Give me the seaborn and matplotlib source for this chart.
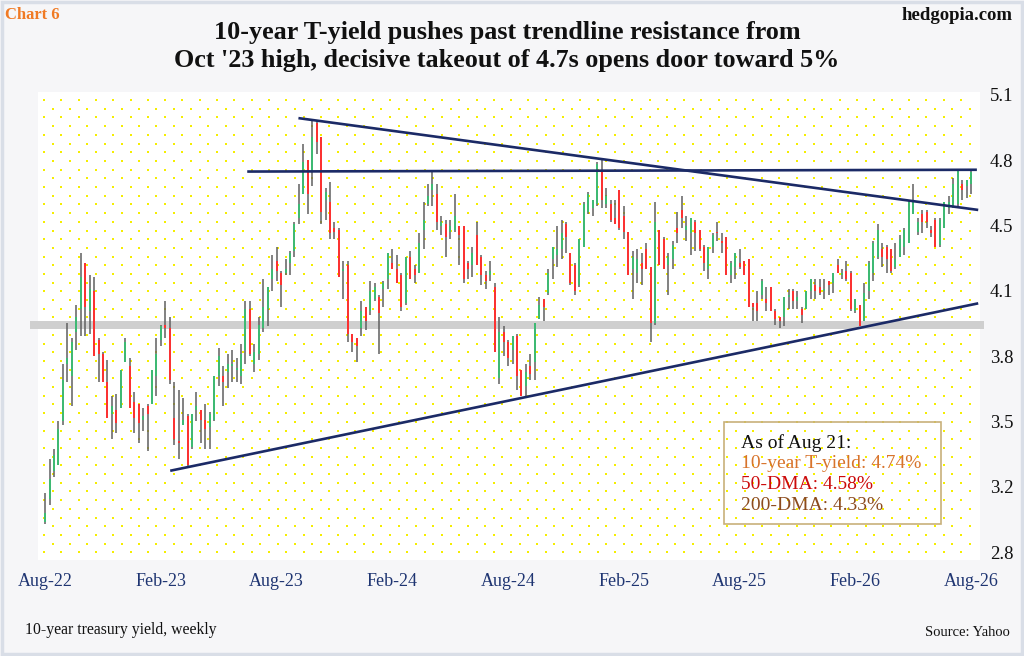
import numpy as np
import matplotlib
matplotlib.use("Agg")
import matplotlib.pyplot as plt
from matplotlib.patches import Rectangle
import seaborn as sns

# ---------------- data (weekly 10-year T-yield, Aug 2022 - Aug 21 2026) ----------------
opens = [2.97,3.09,3.23,3.26,3.48,3.77,3.71,3.93,4.05,4.28,4.04,4.14,3.89,3.82,3.68,3.52,3.54,3.55,3.78,3.76,3.58,3.57,3.49,3.56,3.57,
         3.71,3.89,3.97,3.95,3.50,3.38,3.46,3.51,3.35,3.54,3.54,3.49,3.45,3.49,3.71,3.71,3.73,3.76,3.74,3.71,3.84,4.05,3.77,3.82,3.95,4.05,4.20,
         4.29,4.23,4.23,4.28,4.34,4.51,4.63,4.80,4.74,4.99,4.92,4.60,4.59,4.46,4.45,4.24,4.27,3.92,3.90,3.95,4.06,4.04,4.10,4.11,4.15,4.20,4.28,
         4.25,4.22,4.08,4.31,4.25,4.23,4.45,4.58,4.65,4.63,4.47,4.48,4.44,4.45,4.47,4.47,4.28,4.27,4.42,4.31,4.22,4.22,4.16,3.70,3.93,3.88,3.84,
         3.91,3.74,3.66,3.76,3.78,4.00,4.10,4.13,4.30,4.32,4.35,4.48,4.33,4.27,4.17,4.36,4.54,4.56,4.58,4.75,4.58,4.58,4.51,4.65,4.52,4.44,4.25,
         4.23,4.28,4.35,4.26,3.98,4.45,4.40,4.27,4.30,4.46,4.55,4.45,4.43,4.49,4.45,4.36,4.25,4.36,4.44,4.39,4.41,4.22,4.26,4.28,4.29,4.30,4.08,
         4.08,4.12,4.10,4.16,4.04,4.01,4.01,4.11,4.14,4.09,4.05,4.05,4.14,4.17,4.16,4.14,4.19,4.18,4.27,4.22,4.24,4.23,4.04,4.07,3.99,4.14,4.23,
         4.31,4.35,4.36,4.35,4.26,4.31,4.36,4.38,4.53,4.44,4.53,4.54,4.45,4.50,4.37,4.46,4.56,4.56,4.58,4.68,4.67,4.68]
highs = [3.12,3.29,3.34,3.48,3.77,3.98,3.90,4.07,4.33,4.28,4.22,4.21,3.90,3.83,3.79,3.61,3.62,3.74,3.90,3.80,3.63,3.57,3.55,3.57,3.74,
         3.90,3.97,4.09,4.01,3.68,3.64,3.60,3.52,3.52,3.63,3.54,3.57,3.53,3.71,3.85,3.76,3.82,3.84,3.80,3.87,4.09,4.09,3.87,4.01,4.20,4.16,4.32,
         4.36,4.24,4.30,4.34,4.49,4.68,4.88,4.80,5.00,5.00,4.92,4.66,4.69,4.49,4.46,4.29,4.29,3.92,3.90,4.09,4.06,4.19,4.18,4.12,4.19,4.33,4.35,
         4.32,4.23,4.31,4.34,4.27,4.43,4.59,4.68,4.74,4.68,4.52,4.50,4.50,4.63,4.47,4.47,4.29,4.36,4.49,4.32,4.24,4.29,4.18,4.01,3.96,3.89,3.91,
         3.92,3.74,3.77,3.82,3.98,4.11,4.10,4.25,4.36,4.47,4.50,4.49,4.33,4.28,4.40,4.59,4.64,4.60,4.79,4.80,4.66,4.60,4.60,4.65,4.57,4.44,4.34,
         4.35,4.33,4.38,4.26,4.59,4.45,4.41,4.33,4.39,4.54,4.62,4.52,4.51,4.50,4.45,4.37,4.36,4.43,4.49,4.43,4.41,4.29,4.33,4.35,4.29,4.30,4.08,
         4.14,4.20,4.16,4.16,4.05,4.01,4.11,4.15,4.15,4.14,4.06,4.14,4.20,4.20,4.20,4.20,4.19,4.23,4.30,4.25,4.29,4.24,4.10,4.07,4.18,4.29,4.39,
         4.48,4.38,4.37,4.35,4.38,4.42,4.46,4.60,4.68,4.51,4.55,4.55,4.47,4.51,4.51,4.59,4.62,4.71,4.75,4.70,4.70,4.75]
lows = [2.96,3.06,3.20,3.26,3.46,3.68,3.56,3.84,3.91,3.91,3.92,3.81,3.68,3.68,3.50,3.39,3.42,3.55,3.78,3.55,3.42,3.37,3.43,3.33,3.57,
        3.61,3.86,3.90,3.67,3.36,3.29,3.46,3.25,3.34,3.48,3.37,3.34,3.34,3.48,3.66,3.56,3.65,3.68,3.68,3.67,3.77,3.81,3.73,3.79,3.93,3.96,4.14,
        4.19,4.06,4.22,4.22,4.31,4.48,4.63,4.53,4.67,4.83,4.48,4.50,4.40,4.40,4.21,4.10,3.88,3.83,3.78,3.91,3.94,4.02,4.09,3.82,4.06,4.15,4.25,
        4.18,4.04,4.07,4.20,4.18,4.23,4.35,4.57,4.57,4.45,4.42,4.31,4.40,4.44,4.27,4.18,4.20,4.21,4.27,4.17,4.15,4.19,3.83,3.67,3.81,3.76,3.77,
        3.64,3.61,3.61,3.69,3.69,4.00,3.99,4.12,4.20,4.26,4.30,4.33,4.17,4.12,4.16,4.36,4.53,4.52,4.57,4.56,4.56,4.49,4.48,4.45,4.40,4.22,4.10,
        4.18,4.17,4.25,3.88,3.97,4.27,4.25,4.12,4.25,4.38,4.46,4.39,4.32,4.34,4.34,4.24,4.20,4.33,4.39,4.33,4.22,4.18,4.20,4.25,4.22,4.06,3.99,
        3.99,4.10,4.04,4.04,3.97,3.95,3.96,4.05,4.05,4.05,3.98,4.05,4.10,4.10,4.12,4.10,4.12,4.13,4.23,4.20,4.19,4.04,4.03,3.96,3.99,4.10,4.19,
        4.30,4.26,4.23,4.23,4.25,4.31,4.32,4.38,4.53,4.42,4.43,4.46,4.41,4.36,4.36,4.46,4.53,4.56,4.57,4.60,4.61,4.63]
closes = [3.02,3.19,3.31,3.44,3.69,3.80,3.88,4.01,4.21,4.06,4.15,3.81,3.82,3.68,3.50,3.56,3.47,3.74,3.88,3.55,3.50,3.47,3.51,3.52,3.74,
          3.82,3.96,3.95,3.69,3.39,3.37,3.49,3.26,3.52,3.56,3.49,3.44,3.52,3.71,3.81,3.68,3.77,3.77,3.75,3.82,4.05,3.82,3.83,3.97,4.06,4.16,4.25,
          4.24,4.17,4.25,4.33,4.48,4.58,4.79,4.63,4.92,4.89,4.54,4.64,4.43,4.44,4.21,4.25,3.92,3.88,3.86,4.04,3.99,4.14,4.16,4.03,4.18,4.33,4.25,
          4.18,4.06,4.31,4.20,4.22,4.38,4.50,4.62,4.68,4.49,4.49,4.41,4.47,4.52,4.42,4.20,4.25,4.33,4.27,4.22,4.19,4.24,3.83,3.93,3.88,3.80,3.91,
          3.71,3.61,3.73,3.72,3.98,4.07,4.06,4.23,4.36,4.35,4.43,4.41,4.18,4.14,4.40,4.58,4.63,4.60,4.78,4.60,4.62,4.50,4.48,4.46,4.44,4.22,4.31,
          4.30,4.25,4.25,3.98,4.49,4.27,4.25,4.31,4.37,4.43,4.51,4.47,4.51,4.43,4.35,4.28,4.36,4.42,4.43,4.38,4.22,4.28,4.33,4.26,4.22,4.06,4.06,
          4.04,4.19,4.08,4.04,4.00,3.99,4.11,4.12,4.09,4.11,4.02,4.14,4.20,4.14,4.13,4.15,4.17,4.23,4.23,4.23,4.20,4.05,4.10,3.96,4.13,4.28,4.38,
          4.45,4.31,4.30,4.24,4.30,4.40,4.45,4.59,4.60,4.49,4.49,4.49,4.43,4.36,4.50,4.59,4.59,4.68,4.75,4.65,4.70,4.74]

x_tick_pos = [0, 26, 52, 78, 104, 130, 156, 182, 208]
x_tick_labels = ["Aug-22", "Feb-23", "Aug-23", "Feb-24", "Aug-24", "Feb-25", "Aug-25", "Feb-26", "Aug-26"]
y_tick_pos = [2.82, 3.15, 3.48, 3.81, 4.14, 4.47, 4.80, 5.13]
y_tick_labels = ["2.8", "3.2", "3.5", "3.8", "4.1", "4.5", "4.8", "5.1"]

# trendlines (bar index, yield)
resist_flat_x = [45.4, 209.3]
resist_flat_y = [4.743, 4.752]
resist_down_x = [56.9, 209.6]
resist_down_y = [5.013, 4.549]
support_up_x = [28.1, 209.6]
support_up_y = [3.231, 4.077]
support_band = (3.946, 3.988)

legend_lines = ["As of Aug 21:", "10-year T-yield: 4.74%", "50-DMA: 4.58%", "200-DMA: 4.33%"]
legend_colors = ["#111111", "#d8742c", "#cc0a0a", "#8c4b1e"]

# ---------------- style ----------------
sns.set_theme(style="white")
plt.rcParams["font.family"] = ["Liberation Serif", "DejaVu Serif"]

W, H = 1024, 656
fig = plt.figure(figsize=(W / 100, H / 100), dpi=100, facecolor="#f6f6f8")
L, R, T, B = 38, 980, 92, 560
ax = fig.add_axes([L / W, 1 - B / H, (R - L) / W, (B - T) / H])
ax.set_facecolor("white")

# figure frame
fig.patches.append(Rectangle((0.002, 0.003), 0.996, 0.994, transform=fig.transFigure,
                             fill=False, edgecolor="#d9dee7", linewidth=2.5))

# dotted background (decoration)
aw, ah = R - L, B - T
pitch_x, pitch_y = 17.3, 8.7
pts = []
row = 0
yy = 8.0
while yy < ah - 2:
    off = 6.0 + (pitch_x / 2 if row % 2 else 0)
    xx = off
    while xx < aw - 3:
        pts.append((xx / aw, 1 - yy / ah))
        xx += pitch_x
    yy += pitch_y
    row += 1
pts = np.array(pts)
ax.scatter(pts[:, 0], pts[:, 1], transform=ax.transAxes, s=3.2, marker="s",
           color="#f5ee00", linewidths=0, zorder=0)

idx = np.arange(len(closes))
o = np.array(opens); h = np.array(highs); lo = np.array(lows); c = np.array(closes)

# support band
ax.axhspan(support_band[0], support_band[1], xmin=-0.008, xmax=1.004, color="#cfcfcf",
           zorder=1, clip_on=False, linewidth=0)

# candles
ax.vlines(idx, lo, h, color="#5f5f5f", linewidth=1.1, zorder=3)
up = c >= o
ax.vlines(idx[up], o[up], c[up], color="#3dbb73", linewidth=1.4, zorder=4)
ax.vlines(idx[~up], o[~up], c[~up], color="#ff3030", linewidth=1.4, zorder=4)

# trendlines
navy = "#1b2a66"
for xs, ys in [(resist_flat_x, resist_flat_y), (resist_down_x, resist_down_y), (support_up_x, support_up_y)]:
    ax.plot(xs, ys, color=navy, linewidth=1.9, zorder=5, solid_capstyle="butt", clip_on=False)

ax.set_xlim(-1.6, 210.0)
ax.set_ylim(2.78, 5.145)
ax.set_xticks(x_tick_pos)
ax.set_xticklabels(x_tick_labels, color="#1f3572", fontsize=13)
ax.set_yticks(y_tick_pos)
ax.set_yticklabels(y_tick_labels, color="#111111", fontsize=13.5)
ax.yaxis.tick_right()
ax.tick_params(axis="x", length=0, pad=9)
ax.tick_params(axis="y", length=0, pad=7)
for s in ax.spines.values():
    s.set_visible(False)
ax.grid(False)

# texts
fig.text(5 / W, 1 - 15 / H, "Chart 6", color="#f07a24", fontsize=12, fontweight="bold",
         ha="left", va="center")
fig.text(1013 / W, 1 - 15 / H, "hedgopia.com", color="#111111", fontsize=13.5, fontweight="bold",
         ha="right", va="center")
fig.text(507 / W, 1 - 32 / H, "10-year T-yield pushes past trendline resistance from",
         fontsize=18.8, fontweight="bold", ha="center", va="center", color="#111111")
fig.text(507 / W, 1 - 61 / H, "Oct '23 high, decisive takeout of 4.7s opens door toward 5%",
         fontsize=18.8, fontweight="bold", ha="center", va="center", color="#111111")
fig.text(25 / W, 1 - 630 / H, "10-year treasury yield, weekly", fontsize=11.3,
         ha="left", va="center", color="#111111")
fig.text(1010 / W, 1 - 633 / H, "Source: Yahoo", fontsize=10.5,
         ha="right", va="center", color="#111111")

# legend box
fig.patches.append(Rectangle((724 / W, 1 - 524 / H), 217 / W, 102 / H, transform=fig.transFigure,
                             fill=False, edgecolor="#c8b07a", linewidth=1.2, zorder=6))
for i, (txt, col) in enumerate(zip(legend_lines, legend_colors)):
    fig.text(741 / W, 1 - (443 + 20.7 * i) / H, txt, color=col, fontsize=14,
             ha="left", va="center", zorder=7)

fig.savefig("out.png", dpi=100, facecolor=fig.get_facecolor())
